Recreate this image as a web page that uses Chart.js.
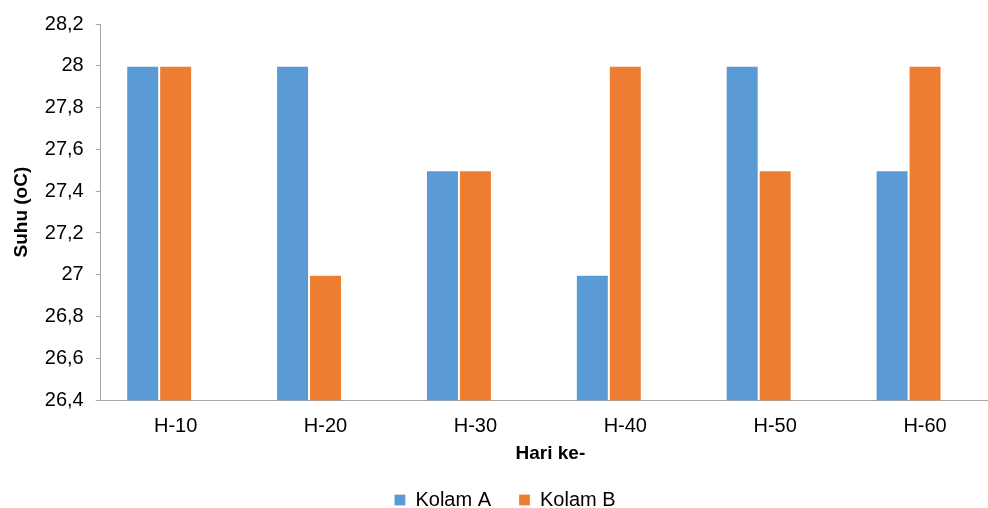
<!DOCTYPE html>
<html>
<head>
<meta charset="utf-8">
<script src="https://cdn.jsdelivr.net/npm/chart.js@4.4.1/dist/chart.umd.min.js"></script>
<style>
  html, body { margin: 0; padding: 0; background: #fff; overflow: hidden; }
  #wrap { position: relative; width: 1000px; height: 508px; }
</style>
</head>
<body>
<div id="wrap"><canvas id="c"></canvas></div>
<script>
// Water temperature per observation day for two ponds
const categories = ['H-10', 'H-20', 'H-30', 'H-40', 'H-50', 'H-60'];
const kolamA = [28, 28, 27.5, 27, 28, 27.5];
const kolamB = [28, 27, 27.5, 28, 27.5, 28];
// third slot of each group is left empty (no readings)
const kosong = [null, null, null, null, null, null];
const yMin = 26.4;
const yMax = 28.2;
const yStep = 0.2;

const FONT = '"Liberation Sans", Arial, sans-serif';
const AXIS = '#a6a6a6';

new Chart(document.getElementById('c'), {
  type: 'bar',
  data: {
    labels: categories,
    datasets: [
      { label: 'Kolam A', data: kolamA, backgroundColor: '#5b9bd5', borderColor: 'rgba(255,255,255,0.25)', borderWidth: 1 },
      { label: 'Kolam B', data: kolamB, backgroundColor: '#ed7d31', borderColor: 'rgba(255,255,255,0.25)', borderWidth: 1 },
      { label: '', data: kosong, backgroundColor: 'rgba(0,0,0,0)', borderWidth: 0 }
    ]
  },
  options: {
    responsive: true,
    maintainAspectRatio: false,
    animation: false,
    layout: { padding: { top: 15, left: 10, right: 0, bottom: -12 } },
    datasets: { bar: { categoryPercentage: 0.66, barPercentage: 1.0 } },
    plugins: {
      tooltip: { enabled: false },
      legend: {
        position: 'bottom',
        labels: {
          font: { family: FONT, size: 20 },
          color: '#000',
          boxWidth: 11,
          boxHeight: 11,
          padding: 28,
          useBorderRadius: false,
          filter: item => item.text !== ''
        }
      }
    },
    scales: {
      x: {
        grid: { display: true, drawOnChartArea: false, drawTicks: false },
        border: { color: AXIS, width: 1 },
        ticks: { font: { family: FONT, size: 20 }, color: '#000', padding: 14 },
        title: {
          display: true,
          text: 'Hari ke-',
          font: { family: FONT, size: 19, weight: 'bold' },
          color: '#000',
          padding: { top: -10, bottom: -3 }
        }
      },
      y: {
        min: yMin,
        max: yMax,
        grid: { display: true, drawOnChartArea: false, drawTicks: true, tickLength: 5, color: AXIS },
        border: { color: AXIS, width: 1 },
        ticks: {
          stepSize: yStep,
          font: { family: FONT, size: 20 },
          color: '#000',
          padding: 12,
          callback: v => String(Number(v.toFixed(1))).replace('.', ',')
        },
        title: {
          display: true,
          text: 'Suhu (oC)',
          font: { family: FONT, size: 19, weight: 'bold' },
          color: '#000',
          padding: { top: 0, bottom: 0 }
        }
      }
    }
  }
});
</script>
</body>
</html>
